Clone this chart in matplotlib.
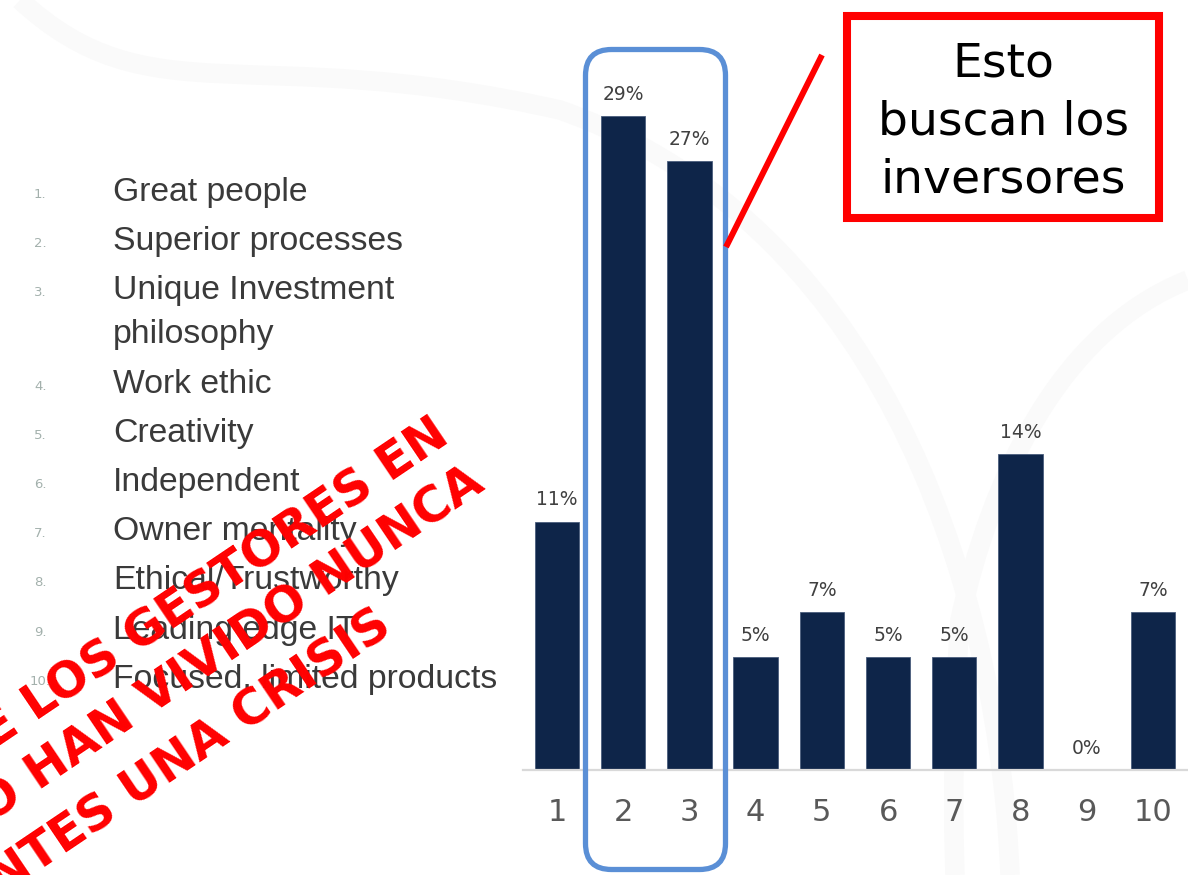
import numpy as np
import matplotlib
matplotlib.use("Agg")
import matplotlib.pyplot as plt
from matplotlib.patches import FancyBboxPatch, Rectangle, PathPatch
from matplotlib.path import Path

# survey: what matters most in an investment manager (share of answers)
categories = ['1', '2', '3', '4', '5', '6', '7', '8', '9', '10']
shares = [11, 29, 27, 5, 7, 5, 5, 14, 0, 7]
attributes = ['Great people', 'Superior processes', 'Unique Investment\nphilosophy',
              'Work ethic', 'Creativity', 'Independent', 'Owner mentality',
              'Ethical/Trustworthy', 'Leading edge IT', 'Focused, limited products']
callout_text = 'Esto\nbuscan los\ninversores'
stamp_lines = ['DE LOS GESTORES EN', 'NO HAN VIVIDO NUNCA', 'ANTES UNA CRISIS']

W, H = 1188, 875
NAVY = '#0e2549'
GREY = '#595959'

fig = plt.figure(figsize=(W / 100, H / 100), dpi=100)
fig.patch.set_facecolor('white')

# faint background swooshes (drawn in pixel space)
bg = fig.add_axes([0, 0, 1, 1], zorder=0)
bg.set_xlim(0, W)
bg.set_ylim(H, 0)
bg.axis('off')
swooshes = [
    [(20, 0), (150, 120), (250, 40), (560, 110), (900, 230), (1000, 620), (1010, 875)],
    [(1188, 280), (1060, 330), (990, 480), (960, 620), (950, 760), (955, 875), (955, 875)],
]
for pts in swooshes:
    codes = [Path.MOVETO] + [Path.CURVE4] * 6
    bg.add_patch(PathPatch(Path(pts, codes), fill=False, edgecolor='#fafafa', lw=14))

# bar chart
ax = fig.add_axes([523 / W, 105 / H, (W - 523) / W, 32 * 22.55 / H], zorder=1)
ax.patch.set_alpha(0)
x = np.arange(1, len(categories) + 1)
bars = ax.bar(x, shares, width=0.67, color=NAVY, edgecolor='#4a5d7c', linewidth=0.6)
for xi, v in zip(x, shares):
    ax.annotate(f'{v}%', (xi, v), xytext=(0, 9), textcoords='offset points',
                ha='center', va='bottom', fontsize=13.5, color='#404040')
ax.set_xlim(0.486, 10.53)
ax.set_ylim(0, 32)
ax.set_xticks(x)
ax.set_xticklabels(categories, fontsize=22, color=GREY)
ax.tick_params(axis='x', length=0, pad=20)
ax.set_yticks([])
for s in ['top', 'right', 'left']:
    ax.spines[s].set_visible(False)
ax.spines['bottom'].set_color('#d9d9d9')
ax.spines['bottom'].set_linewidth(1.6)

# overlay for list, callout and stamp
ov = fig.add_axes([0, 0, 1, 1], zorder=2)
ov.patch.set_alpha(0)
ov.set_xlim(0, W)
ov.set_ylim(H, 0)
ov.axis('off')

y = 201
for i, label in enumerate(attributes):
    ov.text(30 if i == 9 else 34, y - 3, f'{i + 1}.', fontsize=9.5, color='#93a39e',
            ha='left', va='baseline', alpha=0.85)
    for j, line in enumerate(label.split('\n')):
        ov.text(113, y, line, fontsize=24.3, color='#3a3a3a', ha='left', va='baseline',
                family='Liberation Sans')
        y += 44 if j < label.count('\n') else 0
    y += 49.2

# highlight around bars 2 and 3
ov.add_patch(FancyBboxPatch((585.5, 49.5), 140, 820, boxstyle='round,pad=0,rounding_size=26',
                            fill=False, edgecolor='#5a8fd6', lw=3.8))

# callout box
ov.add_patch(Rectangle((847, 16), 312, 202, fill=False, edgecolor='#ff0000', lw=5.8))
ov.text(1003, 122, callout_text, fontsize=34, color='black', ha='center', va='center',
        linespacing=1.36)
ov.plot([822, 726], [55, 247], color='#ff0000', lw=4.3, solid_capstyle='butt')

# red stamp across the list
ends = [(452, 441), (487, 489), (394, 632)]
for line, (ex, ey) in zip(stamp_lines, ends):
    ov.text(ex, ey, line, fontsize=35, fontweight='bold', color='#ff0000', ha='right',
            va='baseline', rotation=34, rotation_mode='anchor')

fig.savefig('out.png', dpi=100, facecolor='white')
